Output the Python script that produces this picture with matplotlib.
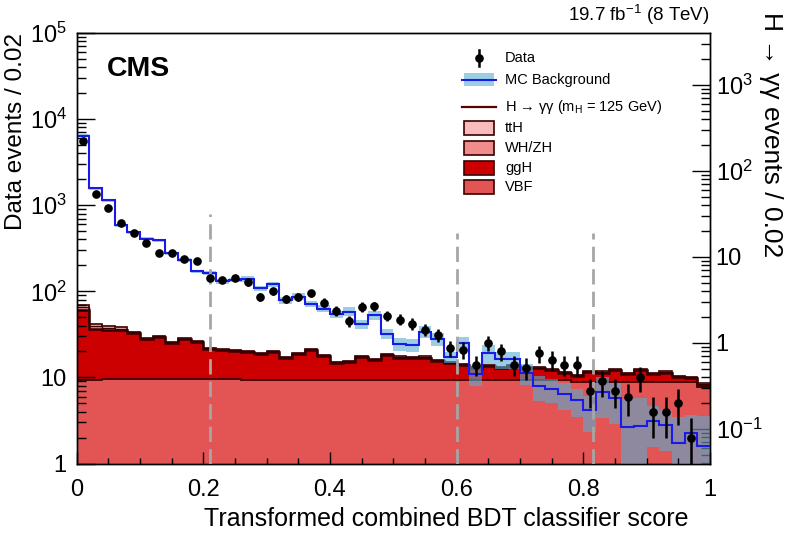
import numpy as np
import matplotlib
matplotlib.use("Agg")
import matplotlib.pyplot as plt
from matplotlib.ticker import FuncFormatter, LogLocator, MultipleLocator, NullFormatter
from matplotlib.patches import Rectangle
from matplotlib.lines import Line2D

plt.rcParams['font.family'] = ['Liberation Sans', 'DejaVu Sans']
plt.rcParams['mathtext.fontset'] = 'custom'
plt.rcParams['mathtext.rm'] = 'Liberation Sans'
plt.rcParams['mathtext.it'] = 'Liberation Sans:italic'
plt.rcParams['mathtext.bf'] = 'Liberation Sans:bold'

# ---------------- data (50 bins of width 0.02) ----------------
bin_edges = np.linspace(0.0, 1.0, 51)

data_counts = [5520, 1336, 928, 621, 470, 363, 278, 278, 237, 226,
               142, 135, 144, 127, 87, 100, 82, 86, 95, 74,
               59, 45, 66, 67, 52, 47, 42, 36, 31, 22,
               21, 14, 25, 20, 14, 13, 19, 16, 14, 14,
               7, 9, 7, 6, 10, 4, 4, 5, 2, 0]

mc_background = [6430, 1585, 1137, 589, 488, 408, 394, 278, 232, 170,
                 163, 131, 136, 139, 108, 121, 78.2, 87, 71.6, 63,
                 54.3, 58.2, 41.6, 52.9, 32.3, 24.5, 23.7, 34.1, 28.0, 17.2,
                 25.0, 10.9, 19.0, 16.2, 16.2, 11.2, 7.9, 7.3, 6.4, 5.4,
                 4.2, 6.8, 5.8, 2.68, 2.75, 3.1, 2.78, 1.75, 2.28, 1.61]

mc_rel_unc = [0.04, 0.04, 0.04, 0.04, 0.04, 0.04, 0.04, 0.04, 0.05, 0.05,
              0.06, 0.06, 0.06, 0.07, 0.07, 0.07, 0.09, 0.09, 0.09, 0.09,
              0.10, 0.12, 0.12, 0.12, 0.14, 0.17, 0.17, 0.17, 0.17, 0.15,
              0.18, 0.28, 0.25, 0.22, 0.22, 0.27, 0.32, 0.30, 0.35, 0.35,
              0.45, 0.50, 0.50, 1.10, 1.10, 0.50, 0.50, 1.00, 0.60, 1.20]

# Higgs signal (H -> gamma gamma events / 0.02, right axis units)
sig_vbf = [0.371, 0.371, 0.382, 0.382, 0.382, 0.382, 0.382, 0.382, 0.382, 0.382,
           0.382, 0.382, 0.382, 0.375, 0.375, 0.375, 0.375, 0.375, 0.375, 0.375,
           0.375, 0.375, 0.375, 0.375, 0.375, 0.375, 0.375, 0.375, 0.375, 0.375,
           0.375, 0.375, 0.375, 0.375, 0.375, 0.375, 0.375, 0.372, 0.372, 0.355,
           0.355, 0.355, 0.355, 0.355, 0.355, 0.355, 0.355, 0.355, 0.355, 0.307]
sig_ggh = [2.02, 1.10, 1.05, 1.03, 0.936, 0.721, 0.793, 0.626, 0.721, 0.653,
           0.475, 0.441, 0.429, 0.418, 0.375, 0.418, 0.290, 0.375, 0.461, 0.333,
           0.216, 0.224, 0.313, 0.263, 0.352, 0.302, 0.290, 0.302, 0.244, 0.216,
           0.182, 0.132, 0.166, 0.139, 0.166, 0.132, 0.132, 0.109, 0.078, 0.059,
           0.109, 0.098, 0.125, 0.086, 0.125, 0.086, 0.098, 0.048, 0.036, 0.022]
sig_whzh = [0.20, 0.092, 0.076, 0.060, 0.027, 0.023, 0.024, 0.021, 0.023, 0.021,
            0.018, 0.017, 0.017, 0.016, 0.015, 0.016, 0.014, 0.015, 0.017, 0.015,
            0.012, 0.012, 0.014, 0.013, 0.015, 0.014, 0.014, 0.014, 0.013, 0.012,
            0.011, 0.010, 0.011, 0.011, 0.011, 0.010, 0.010, 0.010, 0.009, 0.008,
            0.009, 0.009, 0.010, 0.009, 0.010, 0.009, 0.009, 0.008, 0.008, 0.007]
sig_tth = [0.20, 0.092, 0.072, 0.056, 0.014, 0.011, 0.012, 0.010, 0.011, 0.011,
           0.009, 0.008, 0.008, 0.008, 0.008, 0.008, 0.007, 0.008, 0.009, 0.007,
           0.006, 0.006, 0.007, 0.007, 0.007, 0.007, 0.007, 0.007, 0.006, 0.006,
           0.006, 0.005, 0.005, 0.005, 0.005, 0.005, 0.005, 0.005, 0.004, 0.004,
           0.005, 0.005, 0.005, 0.004, 0.005, 0.004, 0.005, 0.004, 0.004, 0.003]

category_cuts = [0.21, 0.60, 0.815]
cut_tops = [800, 480, 480]

# ---------------- styling ----------------
c_vbf = '#e35555'
c_ggh = '#cc0000'
c_whzh = '#f08c8c'
c_tth = '#f8bcbc'
c_outline = '#3a0000'
c_band = '#58acd2'
c_mc = '#1a1ae6'

W, H = 786, 536
fig = plt.figure(figsize=(W / 100, H / 100), dpi=100)
x0, x1, ytop, ybot = 76.5, 710.0, 33.0, 463.5
ax = fig.add_axes([x0 / W, 1 - ybot / H, (x1 - x0) / W, (ybot - ytop) / H])
ax2 = ax.twinx()
ax.set_zorder(ax2.get_zorder() + 1)
ax.patch.set_visible(False)

edges = bin_edges
centers = 0.5 * (edges[:-1] + edges[1:])

# signal stack on right axis
vbf = np.array(sig_vbf)
c1 = vbf
c2 = c1 + np.array(sig_ggh)
c3 = c2 + np.array(sig_whzh)
c4 = c3 + np.array(sig_tth)
ax2.stairs(c4, edges, baseline=c3, fill=True, color=c_tth, lw=0)
ax2.stairs(c3, edges, baseline=c2, fill=True, color=c_whzh, lw=0)
ax2.stairs(c2, edges, baseline=c1, fill=True, color=c_ggh, lw=0)
ax2.stairs(c1, edges, baseline=1e-3, fill=True, color=c_vbf, lw=0)
for c, lw in ((c1, 1.3), (c2, 1.8), (c3, 1.0), (c4, 1.2)):
    ax2.stairs(c, edges, baseline=None, color=c_outline, lw=lw)
ax2.set_yscale('log')
ax2.set_ylim(1 / 25.1, 1e5 / 25.1)

# background band & line, data on left axis
mc = np.array(mc_background)
unc = mc * np.array(mc_rel_unc)
ax.stairs(mc + unc, edges, baseline=np.maximum(mc - unc, 1e-3), fill=True,
          color=c_band, alpha=0.6, lw=0)
ax.stairs(mc, edges, baseline=None, color=c_mc, lw=1.5)

d = np.array(data_counts, dtype=float)
m = d > 0
ax.errorbar(centers[m], d[m], yerr=np.sqrt(d[m]), fmt='o', color='black',
            ms=5.2, elinewidth=1.8, capsize=0, zorder=5)

for xc, yt in zip(category_cuts, cut_tops):
    ax.plot([xc, xc], [1, yt], color='#a6a6a6', lw=2.0,
            linestyle=(0, (5.5, 2.6)), zorder=4)

ax.set_yscale('log')
ax.set_ylim(1, 1e5)
ax.set_xlim(0, 1)


def logfmt(v, pos):
    e = int(round(np.log10(v)))
    if e == 0:
        return '1'
    if e == 1:
        return '10'
    return r'$\mathregular{10^{%d}}$' % e


for a in (ax, ax2):
    a.yaxis.set_major_locator(LogLocator(base=10, numticks=20))
    a.yaxis.set_minor_locator(LogLocator(base=10, subs=np.arange(2, 10), numticks=20))
    a.yaxis.set_major_formatter(FuncFormatter(logfmt))
    a.yaxis.set_minor_formatter(NullFormatter())
    for s in a.spines.values():
        s.set_linewidth(1.0)

ax.xaxis.set_major_locator(MultipleLocator(0.2))
ax.xaxis.set_minor_locator(MultipleLocator(0.05))
ax.xaxis.set_major_formatter(FuncFormatter(lambda v, p: '0' if abs(v) < 1e-9 else ('1' if abs(v - 1) < 1e-9 else '%.1f' % v)))

ax.tick_params(axis='y', which='major', direction='in', length=13, width=1,
               left=True, right=False, labelsize=17, pad=7)
ax.tick_params(axis='y', which='minor', direction='in', length=6.5, width=1,
               left=True, right=False)
ax.tick_params(axis='x', which='major', direction='in', length=8.6, width=1,
               top=False, labelsize=17, pad=11)
ax.tick_params(axis='x', which='minor', direction='in', length=4.3, width=1, top=False)
ax2.tick_params(axis='y', which='major', direction='in', length=13, width=1,
                left=False, right=True, labelsize=17, pad=4)
ax2.tick_params(axis='y', which='minor', direction='in', length=6.5, width=1,
                left=False, right=True)

# axis titles
fig.text(688 / W, 1 - 519 / H, 'Transformed combined BDT classifier score',
         ha='right', va='center', fontsize=18)
fig.text(16 / W, 1 - 33 / H, 'Data events / 0.02', rotation=90,
         ha='center', va='top', fontsize=17.5)
fig.text(771 / W, 1 - 12 / H, 'H \u2192 \u03b3\u03b3 events / 0.02', rotation=270,
         ha='center', va='top', fontsize=19)

fig.text(710 / W, 1 - 15 / H, r'19.7 fb$^{\mathregular{-1}}$ (8 TeV)',
         ha='right', va='center', fontsize=13.5)
fig.text(107 / W, 1 - 69 / H, 'CMS', ha='left', va='center',
         fontsize=20.5, fontweight='bold')

# manual legend (pixel positions converted to axes fraction)
def fx(px):
    return (px - x0) / (x1 - x0)


def fy(py):
    return (ybot - py) / (ybot - ytop)


tr = ax.transAxes
lx0, lx1, tx = 464, 494, 505
lfs = 10.5
# Data
ax.add_line(Line2D([fx(479), fx(479)], [fy(50), fy(66)], color='black', lw=1.8,
                   transform=tr, zorder=10))
ax.add_line(Line2D([fx(479)], [fy(58)], marker='o', ms=5.2, color='black',
                   transform=tr, zorder=10))
ax.text(fx(tx), fy(58), 'Data', transform=tr, fontsize=lfs, va='center', zorder=10)
# MC background
ax.add_patch(Rectangle((fx(lx0), fy(86)), fx(lx1) - fx(lx0), fy(73) - fy(86),
                       transform=tr, facecolor=c_band, alpha=0.6, lw=0, zorder=10))
ax.add_line(Line2D([fx(lx0 - 2), fx(lx1 + 2)], [fy(80), fy(80)], color=c_mc, lw=1.5,
                   transform=tr, zorder=10))
ax.text(fx(tx), fy(80), 'MC Background', transform=tr, fontsize=lfs, va='center', zorder=10)
# Higgs line
ax.add_line(Line2D([fx(lx0 - 2), fx(lx1 + 2)], [fy(107), fy(107)], color='#5a0000', lw=1.6,
                   transform=tr, zorder=10))
ax.text(fx(tx), fy(107), 'H \u2192 \u03b3\u03b3 (m$_{\\mathregular{H}}$ = 125 GeV)',
        transform=tr, fontsize=lfs, va='center', zorder=10)
for py, col, lab in ((128, c_tth, 'ttH'), (148, c_whzh, 'WH/ZH'),
                     (168, c_ggh, 'ggH'), (187, c_vbf, 'VBF')):
    ax.add_patch(Rectangle((fx(lx0), fy(py + 7)), fx(lx1) - fx(lx0), fy(py - 7) - fy(py + 7),
                           transform=tr, facecolor=col, edgecolor=c_outline, lw=1.2, zorder=10))
    ax.text(fx(tx), fy(py), lab, transform=tr, fontsize=lfs, va='center', zorder=10)

fig.savefig('out.png', dpi=100)
